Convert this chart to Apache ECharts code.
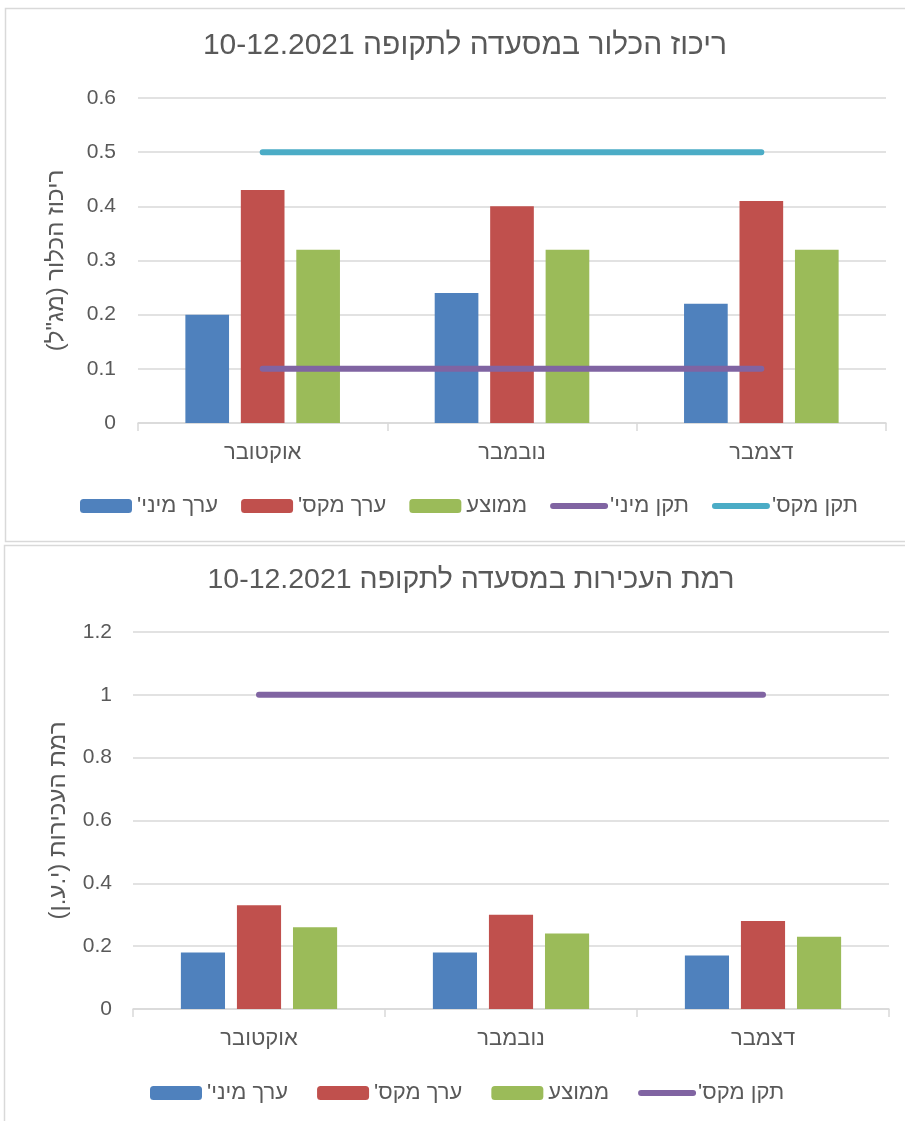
<!DOCTYPE html>
<html>
<head>
<meta charset="utf-8">
<script src="https://cdn.jsdelivr.net/npm/echarts@6/dist/echarts.min.js"></script>
<style>
html,body{margin:0;padding:0;background:#fff;}
#c{width:905px;height:1121px;}
</style>
</head>
<body>
<div id="c"></div>
<script>
var RLM = '\u200F';
var categories = ['אוקטובר', 'נובמבר', 'דצמבר'];

// Chart 1: chlorine concentration (mg/l)
var chlorTitle = 'ריכוז הכלור במסעדה לתקופה 10-12.2021';
var chlorAxisName = 'ריכוז הכלור (מג"ל)';
var chlorMin = [0.20, 0.24, 0.22];
var chlorMax = [0.43, 0.40, 0.41];
var chlorAvg = [0.32, 0.32, 0.32];
var chlorStdMin = [0.1, 0.1, 0.1];
var chlorStdMax = [0.5, 0.5, 0.5];

// Chart 2: turbidity (NTU)
var turbTitle = 'רמת העכירות במסעדה לתקופה 10-12.2021';
var turbAxisName = 'רמת העכירות (י.ע.ן)';
var turbMin = [0.18, 0.18, 0.17];
var turbMax = [0.33, 0.30, 0.28];
var turbAvg = [0.26, 0.24, 0.23];
var turbStdMax = [1, 1, 1];

var names = ["ערך מיני'", "ערך מקס'", 'ממוצע', "תקן מיני'", "תקן מקס'"];

var FONT = '"Liberation Sans", Arial, "DejaVu Sans", sans-serif';
var TXT = '#595959';
var GRID = '#D9D9D9';
var C_BLUE = '#4F81BD', C_RED = '#C0504D', C_GREEN = '#9BBB59', C_PURPLE = '#8064A2', C_CYAN = '#4BACC6';

function n(s){ return s + RLM; }

function xAxis(gi){
  return {
    type: 'category', gridIndex: gi, data: categories,
    axisLine: {lineStyle: {color: GRID, width: 1.5}},
    axisTick: {show: true, length: 8, lineStyle: {color: GRID, width: 1.5}},
    axisLabel: {color: TXT, fontFamily: FONT, fontSize: 22, margin: 19}
  };
}
function yAxis(gi, max, interval, name, gap, margin){
  return {
    type: 'value', gridIndex: gi, min: 0, max: max, interval: interval,
    name: n(name), nameLocation: 'middle', nameRotate: 90, nameGap: gap,
    nameTextStyle: {color: TXT, fontFamily: FONT, fontSize: 24},
    axisLine: {show: false}, axisTick: {show: false},
    axisLabel: {color: TXT, fontFamily: FONT, fontSize: 21, margin: margin},
    splitLine: {lineStyle: {color: GRID, width: 1.5}}
  };
}
function bar(name, data, color, idx){
  return {
    name: n(name), type: 'bar', xAxisIndex: idx, yAxisIndex: idx, data: data,
    barGap: '27%', barCategoryGap: '38%',
    itemStyle: {color: color}, emphasis: {disabled: true}
  };
}
function line(name, data, color, idx){
  return {
    name: n(name), type: 'line', xAxisIndex: idx, yAxisIndex: idx, data: data,
    symbol: 'none', lineStyle: {color: color, width: 6, cap: 'round'},
    itemStyle: {color: color}, emphasis: {disabled: true}, z: 3
  };
}
function legendItem(name, lineColor){
  var o = {name: n(name)};
  if (lineColor) { o.itemStyle = {opacity: 0}; o.lineStyle = {width: 6, cap: 'round', color: lineColor}; }
  return o;
}

var option = {
  animation: false,
  textStyle: {fontFamily: FONT},
  graphic: [
    {type: 'rect', shape: {x: 5.5, y: 8.5, width: 905, height: 533}, style: {fill: 'none', stroke: GRID, lineWidth: 1.5}, silent: true},
    {type: 'rect', shape: {x: 4.5, y: 545.5, width: 905, height: 600}, style: {fill: 'none', stroke: GRID, lineWidth: 1.5}, silent: true}
  ],
  title: [
    {text: chlorTitle, left: 465, top: 31, textAlign: 'center', padding: 0,
     textStyle: {color: TXT, fontFamily: FONT, fontSize: 30, fontWeight: 'normal'}},
    {text: turbTitle, left: 471, top: 566, textAlign: 'center', padding: 0,
     textStyle: {color: TXT, fontFamily: FONT, fontSize: 28.5, fontWeight: 'normal'}}
  ],
  legend: [
    {data: [legendItem(names[0]), legendItem(names[1]), legendItem(names[2]), legendItem(names[3], C_PURPLE), legendItem(names[4], C_CYAN)],
     left: 80, top: 495, padding: 0, itemWidth: 52, itemHeight: 14, itemGap: 23,
     textStyle: {color: TXT, fontFamily: FONT, fontSize: 22}, selectedMode: false},
    {data: [legendItem(names[0]), legendItem(names[1]), legendItem(names[2]), legendItem(names[4], C_PURPLE)],
     left: 150, top: 1082, padding: 0, itemWidth: 52, itemHeight: 14, itemGap: 29,
     textStyle: {color: TXT, fontFamily: FONT, fontSize: 22}, selectedMode: false}
  ],
  grid: [
    {left: 138, right: 19, top: 98, bottom: 698},
    {left: 133, right: 16, top: 632, bottom: 112}
  ],
  xAxis: [xAxis(0), xAxis(1)],
  yAxis: [yAxis(0, 0.6, 0.1, chlorAxisName, 70, 22), yAxis(1, 1.2, 0.2, turbAxisName, 63, 21)],
  series: [
    bar(names[0], chlorMin, C_BLUE, 0),
    bar(names[1], chlorMax, C_RED, 0),
    bar(names[2], chlorAvg, C_GREEN, 0),
    line(names[3], chlorStdMin, C_PURPLE, 0),
    line(names[4], chlorStdMax, C_CYAN, 0),
    bar(names[0], turbMin, C_BLUE, 1),
    bar(names[1], turbMax, C_RED, 1),
    bar(names[2], turbAvg, C_GREEN, 1),
    line(names[4], turbStdMax, C_PURPLE, 1)
  ]
};
var chart = echarts.init(document.getElementById('c'), null, {renderer: 'canvas'});
chart.setOption(option);
</script>
</body>
</html>
